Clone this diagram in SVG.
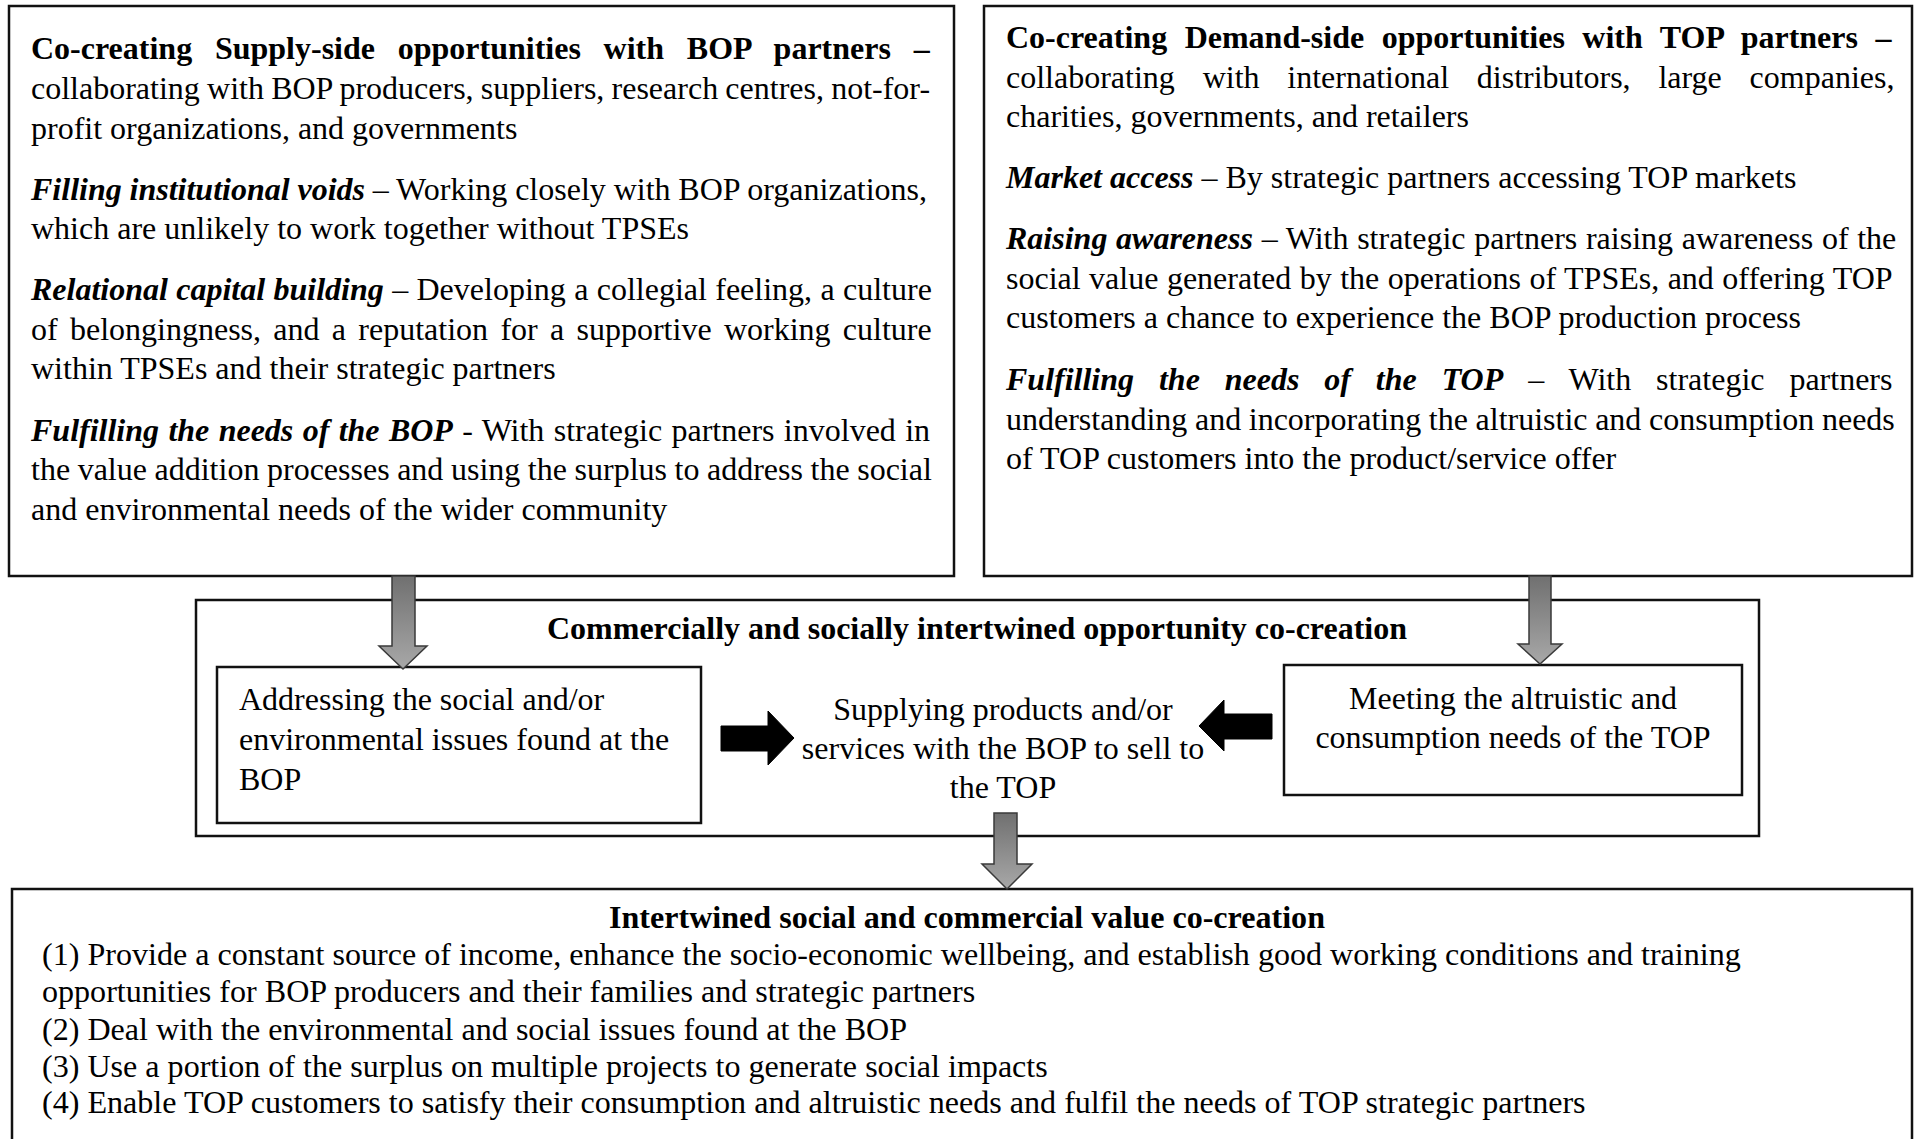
<svg xmlns="http://www.w3.org/2000/svg" width="1914" height="1139" viewBox="0 0 1914 1139">
<defs>
<style>
text{font-family:"Liberation Serif","Times New Roman",serif;font-size:32px;fill:#000}
.b{font-weight:bold}
.bi{font-weight:bold;font-style:italic}
.mid{text-anchor:middle}
.lg text{font-size:32.1px}
.box{fill:#fff;stroke:#111;stroke-width:2.5}
.garrow{fill:url(#gg);stroke:#3a3a3a;stroke-width:1.5}
.karrow{fill:#000;stroke:#000;stroke-width:1}
</style>
<linearGradient id="gg" x1="0" y1="0" x2="0" y2="1">
<stop offset="0" stop-color="#707070"/>
<stop offset="1" stop-color="#a8a8a8"/>
</linearGradient>
</defs>
<rect width="1914" height="1139" fill="#fff"/>

<g id="supply-side">
<rect class="box" x="9" y="6" width="945" height="570"/>
<text class="b" x="31" y="59" style="word-spacing:14.75px">Co-creating Supply-side opportunities with BOP partners –</text>
<text x="31" y="99" style="word-spacing:-0.79px">collaborating with BOP producers, suppliers, research centres, not-for-</text>
<text x="31" y="139">profit organizations, and governments</text>
<text x="31" y="200" style="word-spacing:-0.16px"><tspan class="bi">Filling institutional voids</tspan> – Working closely with BOP organizations,</text>
<text x="31" y="239">which are unlikely to work together without TPSEs</text>
<text x="31" y="300" style="word-spacing:0.36px"><tspan class="bi">Relational capital building</tspan> – Developing a collegial feeling, a culture</text>
<text x="31" y="340" style="word-spacing:4.3px">of belongingness, and a reputation for a supportive working culture</text>
<text x="31" y="379">within TPSEs and their strategic partners</text>
<text x="31" y="441" style="word-spacing:1.35px"><tspan class="bi">Fulfilling the needs of the BOP</tspan> - With strategic partners involved in</text>
<text x="31" y="480" style="word-spacing:-0.43px">the value addition processes and using the surplus to address the social</text>
<text x="31" y="520">and environmental needs of the wider community</text>
</g>

<g id="demand-side">
<rect class="box" x="984" y="6" width="928" height="570"/>
<text class="b" x="1006" y="48" style="word-spacing:9.5px">Co-creating Demand-side opportunities with TOP partners –</text>
<text x="1006" y="88" style="word-spacing:19.8px">collaborating with international distributors, large companies,</text>
<text x="1006" y="127">charities, governments, and retailers</text>
<text x="1006" y="188"><tspan class="bi">Market access</tspan> – By strategic partners accessing TOP markets</text>
<text x="1006" y="249" style="word-spacing:0.68px"><tspan class="bi">Raising awareness</tspan> – With strategic partners raising awareness of the</text>
<text x="1006" y="289" style="word-spacing:0.47px">social value generated by the operations of TPSEs, and offering TOP</text>
<text x="1006" y="328">customers a chance to experience the BOP production process</text>
<text x="1006" y="390" style="word-spacing:16.9px"><tspan class="bi">Fulfilling the needs of the TOP</tspan> – With strategic partners</text>
<text x="1006" y="430" style="word-spacing:-0.36px">understanding and incorporating the altruistic and consumption needs</text>
<text x="1006" y="469">of TOP customers into the product/service offer</text>
</g>

<g id="opportunity-co-creation">
<rect class="box" x="196" y="600" width="1563" height="236"/>
<text class="b mid" x="977" y="639">Commercially and socially intertwined opportunity co-creation</text>
</g>

<g id="addressing-issues">
<rect class="box" x="217" y="667" width="484" height="156"/>
<text x="239" y="710">Addressing the social and/or</text>
<text x="239" y="750">environmental issues found at the</text>
<text x="239" y="790">BOP</text>
</g>

<g id="supplying-products">
<text class="mid" x="1003" y="720">Supplying products and/or</text>
<text class="mid" x="1003" y="759">services with the BOP to sell to</text>
<text class="mid" x="1003" y="798">the TOP</text>
</g>

<g id="meeting-needs">
<rect class="box" x="1284" y="665" width="458" height="130"/>
<text class="mid" x="1513" y="709">Meeting the altruistic and</text>
<text class="mid" x="1513" y="748">consumption needs of the TOP</text>
</g>

<g id="value-co-creation" class="lg">
<rect class="box" x="12" y="889" width="1900" height="270"/>
<text class="b mid" x="967" y="928">Intertwined social and commercial value co-creation</text>
<text x="42" y="965">(1) Provide a constant source of income, enhance the socio-economic wellbeing, and establish good working conditions and training</text>
<text x="42" y="1002">opportunities for BOP producers and their families and strategic partners</text>
<text x="42" y="1040">(2) Deal with the environmental and social issues found at the BOP</text>
<text x="42" y="1077">(3) Use a portion of the surplus on multiple projects to generate social impacts</text>
<text x="42" y="1113">(4) Enable TOP customers to satisfy their consumption and altruistic needs and fulfil the needs of TOP strategic partners</text>
</g>

<g id="connectors">
<path class="garrow" d="M392,576 H415 V646 H427 L403,669 L379,646 H392 Z"/>
<path class="garrow" d="M1529,576 H1551 V644 H1562 L1540,664 L1518,644 H1529 Z"/>
<path class="garrow" d="M994,813 H1017 V864 H1032 L1007,889 L982,864 H994 Z"/>
<path class="karrow" d="M721,726 H768 V711 L794,738 L768,765 V751 H721 Z"/>
<path class="karrow" d="M1272,714 H1224 V700 L1199,726 L1224,751 V739 H1272 Z"/>
</g>
</svg>
